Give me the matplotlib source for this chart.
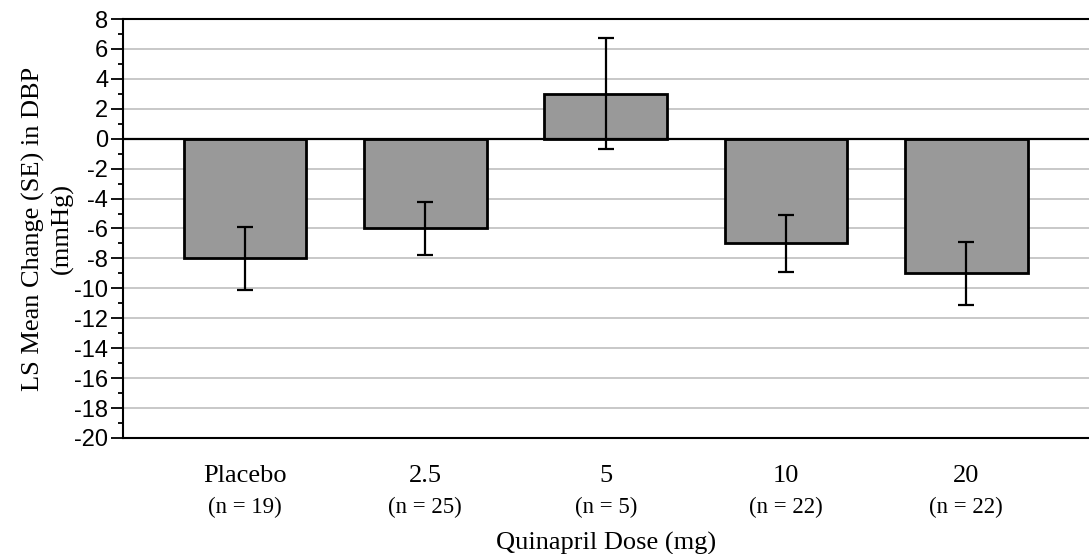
import matplotlib
matplotlib.use("Agg")
import matplotlib.pyplot as plt
import numpy as np

# values
doses = ["Placebo", "2.5", "5", "10", "20"]
n_per_group = [19, 25, 5, 22, 22]
ls_mean = [-8.0, -6.0, 3.0, -7.0, -9.0]
se = [2.1, 1.8, 3.7, 1.9, 2.1]

serif = "Liberation Serif"
sans = "Liberation Sans"
plt.rcParams["axes.unicode_minus"] = False

fig = plt.figure(figsize=(10.89, 5.54), dpi=100)
ax = fig.add_axes([0.1129, 0.2094, 0.8871, 0.7563])

x = np.arange(len(doses))

# grid
ax.set_axisbelow(True)
ax.yaxis.grid(True, color="#c8c8c8", linewidth=1.4)

ax.bar(x, ls_mean, width=0.68, color="#999999", edgecolor="black", linewidth=2.0, zorder=2)
ax.errorbar(x, ls_mean, yerr=se, fmt="none", ecolor="black", elinewidth=1.6,
            capsize=5.8, capthick=1.6, zorder=3)
ax.axhline(0, color="black", linewidth=1.6, zorder=2.5)

ax.set_xlim(-0.677, 4.68)
ax.set_ylim(-20, 8)
ax.set_yticks(np.arange(-20, 9, 2))
ax.set_yticks(np.arange(-19, 8, 2), minor=True)
ax.tick_params(axis="y", which="major", length=8.5, width=1.3, pad=2,
               labelsize=17, labelfontfamily=sans)
ax.tick_params(axis="y", which="minor", length=3.6, width=1.3)

# x labels: dose on first line, n on second
ax.set_xticks(x)
ax.set_xticklabels(doses, fontsize=19, fontfamily=serif, va="baseline")
ax.tick_params(axis="x", length=0, pad=31.5)
xt = ax.get_xaxis_transform()
for xi, n in zip(x, n_per_group):
    ax.text(xi, -0.179, "(n = {})".format(n), transform=xt, ha="center", va="baseline",
            fontsize=16.5, fontfamily=serif)
ax.text(0.5, -0.267, "Quinapril Dose (mg)", transform=ax.transAxes, ha="center",
        va="baseline", fontsize=19, fontfamily=serif)

ax.set_ylabel("LS Mean Change (SE) in DBP\n(mmHg)", fontsize=19, fontfamily=serif,
              labelpad=0.5, linespacing=1.3)

for side in ["left", "top", "bottom"]:
    ax.spines[side].set_linewidth(1.5)
    ax.spines[side].set_color("black")
ax.spines["right"].set_visible(False)

fig.savefig("out.png", dpi=100)
